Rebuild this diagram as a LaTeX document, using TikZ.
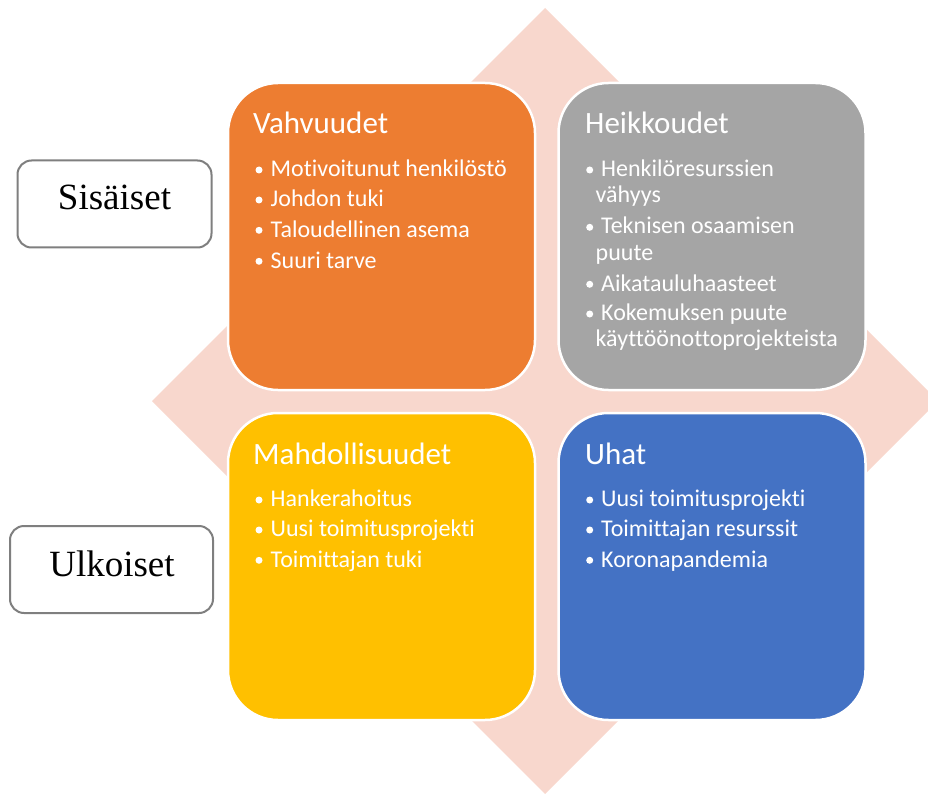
\documentclass[tikz,border=0pt]{standalone}
\usepackage{fontspec}
\setmainfont{Carlito}[Ligatures=NoCommon]
\newfontfamily\serifx{Liberation Serif}
\definecolor{diamc}{HTML}{F8D7CD}
\definecolor{qorange}{HTML}{ED7D31}
\definecolor{qgray}{HTML}{A5A5A5}
\definecolor{qyellow}{HTML}{FFC000}
\definecolor{qblue}{HTML}{4472C4}
\definecolor{labborder}{HTML}{7F7F7F}
\tikzset{
  quad/.style={draw=white, line width=2.5pt, rounded corners=50pt,
    minimum width=307pt, minimum height=307pt, inner sep=0pt},
  labbox/.style={draw=labborder, line width=2pt, rounded corners=14pt,
    fill=white, inner sep=0pt, minimum height=87pt},
  labtext/.style={anchor=base, inner sep=0pt, font=\serifx\fontsize{37}{37}\selectfont},
  qtitle/.style={anchor=base west, inner sep=0pt, text=white,
    font=\fontsize{31}{31}\selectfont},
  qitem/.style={anchor=base west, inner sep=0pt, text=white,
    font=\fontsize{24}{24}\selectfont},
  bdot/.style={circle, fill=white, inner sep=0pt, minimum size=7pt},
}
\begin{document}
\begin{tikzpicture}[x=1pt,y=-1pt]
\useasboundingbox (0,0) rectangle (928,794);
\begin{scope}
\clip (0,0) rectangle (928,794);
\fill[diamc] (545,8) -- (938,401) -- (545,794) -- (152,401) -- cycle;
\end{scope}
% quadrants
\node[quad, fill=qorange] (S) at (381.5,236.5) {};
\node[quad, fill=qgray]   (W) at (712,236.5) {};
\node[quad, fill=qyellow] (O) at (381.5,566.5) {};
\node[quad, fill=qblue]   (T) at (712,566.5) {};
% side labels
\node[labbox, minimum width=194pt] (sis) at (114.5,204) {};
\node[labtext] (sist) at (114.5,210) {Sisäiset};
\node[labbox, minimum width=203pt] (ulk) at (111.5,569.5) {};
\node[labtext] (ulkt) at (112,576) {Ulkoiset};
% Vahvuudet
\node[qtitle] (s0) at (253,134) {Vahvuudet};
\node[bdot] (s1d) at (259,170) {};
\node[qitem] (s1) at (270.5,176.7) {Motivoitunut henkilöstö};
\node[bdot] (s2d) at (259,200) {};
\node[qitem] (s2) at (270.5,206.7) {Johdon tuki};
\node[bdot] (s3d) at (259,230.3) {};
\node[qitem] (s3) at (270.5,237) {Taloudellinen asema};
\node[bdot] (s4d) at (259,261.3) {};
\node[qitem] (s4) at (270.5,268) {Suuri tarve};
% Heikkoudet
\node[qtitle] (w0) at (585,134) {Heikkoudet};
\node[bdot] (w1d) at (589.7,170) {};
\node[qitem] (w1) at (601,176.7) {Henkilöresurssien};
\node[qitem] (w1b) at (595.5,202.7) {vähyys};
\node[bdot] (w2d) at (589.7,227.3) {};
\node[qitem] (w2) at (601,234) {Teknisen osaamisen};
\node[qitem] (w2b) at (595.5,260) {puute};
\node[bdot] (w3d) at (589.7,284.3) {};
\node[qitem] (w3) at (601,291) {Aikatauluhaasteet};
\node[bdot] (w4d) at (589.7,314) {};
\node[qitem] (w4) at (601,320.7) {Kokemuksen puute};
\node[qitem] (w4b) at (595.5,346.7) {käyttöönottoprojekteista};
% Mahdollisuudet
\node[qtitle] (o0) at (253,464) {Mahdollisuudet};
\node[bdot] (o1d) at (259,500) {};
\node[qitem] (o1) at (270.5,506.7) {Hankerahoitus};
\node[bdot] (o2d) at (259,530) {};
\node[qitem] (o2) at (270.5,536.7) {Uusi toimitusprojekti};
\node[bdot] (o3d) at (259,560.3) {};
\node[qitem] (o3) at (270.5,567) {Toimittajan tuki};
% Uhat
\node[qtitle] (t0) at (585,464) {Uhat};
\node[bdot] (t1d) at (589.7,500) {};
\node[qitem] (t1) at (601,506.7) {Uusi toimitusprojekti};
\node[bdot] (t2d) at (589.7,530) {};
\node[qitem] (t2) at (601,536.7) {Toimittajan resurssit};
\node[bdot] (t3d) at (589.7,560.3) {};
\node[qitem] (t3) at (601,567) {Koronapandemia};
\end{tikzpicture}
\end{document}
